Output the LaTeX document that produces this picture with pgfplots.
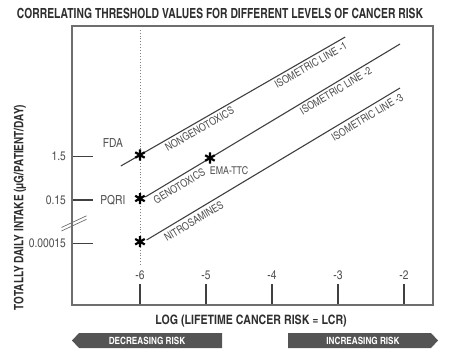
\documentclass[border=0pt]{standalone}
\usepackage{fontspec}
\setmainfont{texgyreheroscn}[Extension=.otf, UprightFont=*-regular, BoldFont=*-bold]
\usepackage{graphicx}
\usepackage{pgfplots}
\pgfplotsset{compat=1.18}
\definecolor{linec}{HTML}{404040}
\definecolor{txtc}{HTML}{505050}
\definecolor{boxc}{HTML}{6E6E6E}
\definecolor{arrc}{HTML}{545454}
\definecolor{titc}{HTML}{2E2E2E}
\newcommand{\fs}[1]{\fontsize{#1}{#1}\selectfont}
\begin{document}
\begin{tikzpicture}[x=1bp,y=1bp]
\path[use as bounding box] (0,0) rectangle (450,355);
\begin{axis}[
  at={(72bp,50bp)}, anchor=south west,
  scale only axis, width=361bp, height=279bp,
  xmin=-7.03, xmax=-1.56, ymin=0, ymax=279,
  clip=false,
  axis line style={draw=boxc, line width=1.5bp},
  tick align=inside,
  major tick length=21bp,
  tick style={draw=linec, line width=1.1bp},
  xtick pos=bottom, ytick pos=left,
  xtick={-6,-5,-4,-3,-2}, xticklabels={-6,-5,-4,-3,-2},
  ytick={61.7,105,148.3}, yticklabels={0.00015,0.15,1.5},
  xticklabel style={anchor=base, yshift=25.7bp, font=\fs{12.5}, text=txtc},
  yticklabel style={anchor=east, inner sep=0pt, xshift=-6bp, font=\fs{12.5}, text=txtc},
  /pgf/number format/assume math mode=true,
]
\addplot[gray, dotted, line width=0.9bp] coordinates {(-6,40) (-6,277)};
\addplot[linec, line width=1.1bp] coordinates {(-6.29,139) (-2.89,268)}
  node[pos=0.335, sloped, below, inner sep=2.5bp, font=\fs{10.8}, text=txtc] {NONGENOTOXICS}
  node[pos=0.83, sloped, below, inner sep=2.5bp, font=\fs{10.8}, text=txtc] {ISOMETRIC LINE -1};
\addplot[linec, line width=1.1bp] coordinates {(-5.92,108) (-2.06,261)}
  node[pos=0.117, sloped, below, inner sep=3.5bp, font=\fs{10.8}, text=txtc] {GENOTOXICS}
  node[pos=0.733, sloped, below, inner sep=2.5bp, font=\fs{10.8}, text=txtc] {ISOMETRIC LINE -2};
\addplot[linec, line width=1.1bp] coordinates {(-5.9,65) (-2.06,217)}
  node[pos=0.17, sloped, below, inner sep=3.5bp, font=\fs{10.8}, text=txtc] {NITROSAMINES}
  node[pos=0.854, sloped, below, inner sep=3.5bp, font=\fs{10.8}, text=txtc] {ISOMETRIC LINE -3};
\addplot[only marks, mark=asterisk, mark size=5.5bp, line width=2.2bp, black] coordinates {(-6,150) (-6,106.5) (-6,63.3) (-4.94,147)};
\node[text=txtc, font=\fs{12.5}] at (axis cs:-6.41,162) {FDA};
\node[text=txtc, font=\fs{12.5}] at (axis cs:-6.41,105) {PQRI};
\node[text=txtc, font=\fs{10.8}] at (axis cs:-4.65,134) {EMA-TTC};
\draw[boxc, line width=0.7bp] (axis cs:-7.19,74) -- (axis cs:-6.81,85.7);
\draw[boxc, line width=0.7bp] (axis cs:-7.19,77.5) -- (axis cs:-6.81,89.2);
\end{axis}
\node[font=\bfseries\fs{14}, text=titc, inner sep=0pt] at (220,342) {\resizebox{406bp}{\height}{CORRELATING THRESHOLD VALUES FOR DIFFERENT LEVELS OF CANCER RISK}};
\node[rotate=90, font=\bfseries\fs{13}, text=titc, inner sep=0pt] at (20,147.5) {\resizebox{205bp}{\height}{TOTALLY DAILY INTAKE (µG/PATIENT/DAY)}};
\node[font=\bfseries\fs{13}, text=titc] at (251,34.3) {LOG (LIFETIME CANCER RISK = LCR)};
\fill[arrc] (72,14.5) -- (79,22) -- (222,22) -- (222,7) -- (79,7) -- cycle;
\node[text=white, font=\bfseries\fs{10}] at (147,14.5) {DECREASING RISK};
\fill[arrc] (288,22) -- (431,22) -- (438,14.5) -- (431,7) -- (288,7) -- cycle;
\node[text=white, font=\bfseries\fs{10}] at (363,14.5) {INCREASING RISK};
\end{tikzpicture}
\end{document}
